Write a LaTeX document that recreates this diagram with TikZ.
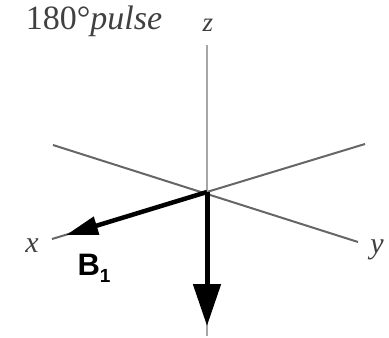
\documentclass[tikz,border=0pt]{standalone}
\usepackage{fontspec}
\setmainfont{Liberation Serif}
\newfontfamily\vecsans{Liberation Sans}
\usetikzlibrary{arrows.meta, positioning, calc}

\begin{document}
\begin{tikzpicture}[
      x=1pt, y=-1pt,
      axis/.style={draw=black!60, line width=2pt},
      zaxis/.style={draw=black!35, line width=2.6pt},
      vec/.style={line width=4.5pt, -{Triangle[length=32pt, width=18pt]}},
      bigvec/.style={line width=5pt, -{Triangle[length=42pt, width=27pt]}},
      lbl/.style={font=\fontsize{30}{32}\selectfont\itshape, inner sep=0pt, text=black!75},
      title/.style={font=\fontsize{34}{36}\selectfont, inner sep=0pt, text=black!75}
    ]
    \useasboundingbox (0,0) rectangle (389,338);

    % axes
    \coordinate (o) at (207,192);
    \coordinate (xend) at (52,239);
    \coordinate (xback) at (365,144);
    \coordinate (yend) at (358,242);
    \coordinate (yback) at (53,145);
    \coordinate (ztop) at (207,45);
    \coordinate (zbot) at (207,336);

    \draw[axis] (xback) -- (xend);
    \draw[axis] (yback) -- (yend);
    \draw[zaxis] (ztop) -- (zbot);

    \node[title] (pulse) at (94,21) {180°\textit{pulse}};
    \node[lbl, font=\fontsize{27}{29}\selectfont\itshape] (zlab) at (208,25) {z};
    \node[lbl] (xlab) at (32,246) {x};
    \node[lbl] (ylab) at (377,250) {y};

    % B1 along x and the inverted magnetisation
    \coordinate (b1tip) at (66,235);
    \coordinate (mtip) at (207,326);
    \draw[vec] (o) -- (b1tip);
    \draw[bigvec] (o) -- (mtip);
    \node[inner sep=0pt, font=\vecsans\bfseries\fontsize{31}{33}\selectfont] (b1) at (94,268)
      {B\raisebox{-7pt}{\fontsize{19}{19}\selectfont 1}};
  \end{tikzpicture}
\end{document}
